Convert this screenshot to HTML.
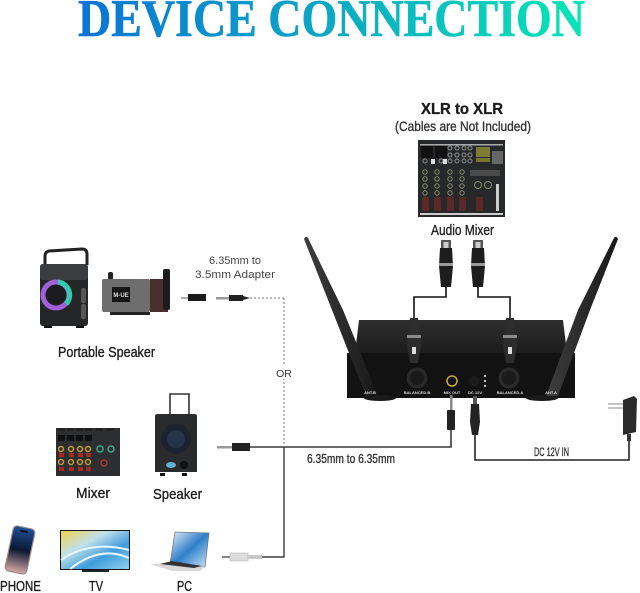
<!DOCTYPE html>
<html><head><meta charset="utf-8"><style>
html,body{margin:0;padding:0;background:#fff}
svg{display:block}
.n{font-family:"Liberation Sans",sans-serif;fill:#1c1c1c;stroke:#1c1c1c;stroke-width:.35}
</style></head><body>
<svg width="640" height="593" viewBox="0 0 640 593" xmlns="http://www.w3.org/2000/svg">
<defs>
<linearGradient id="t" gradientUnits="userSpaceOnUse" x1="78" y1="0" x2="585" y2="0"><stop offset="0" stop-color="#0b74d6"/><stop offset=".5" stop-color="#0ba9c4"/><stop offset="1" stop-color="#06e6b6"/></linearGradient>
<linearGradient id="top" x1="0" y1="0" x2="0" y2="1"><stop offset="0" stop-color="#2e2e2e"/><stop offset="1" stop-color="#1c1c1c"/></linearGradient>
<linearGradient id="ant" x1="0" y1="0" x2="1" y2="0"><stop offset="0" stop-color="#3e3e3e"/><stop offset="1" stop-color="#181818"/></linearGradient>
<linearGradient id="sky" x1="0" y1="0" x2="1" y2="1"><stop offset="0" stop-color="#f4d34a"/><stop offset=".35" stop-color="#bfe0ea"/><stop offset=".65" stop-color="#3f9ddc"/><stop offset="1" stop-color="#8fd0ef"/></linearGradient>
<linearGradient id="ph" x1="0" y1="0" x2="0" y2="1"><stop offset="0" stop-color="#1f4f9a"/><stop offset=".5" stop-color="#0b1830"/><stop offset="1" stop-color="#d8a8a8"/></linearGradient>
<linearGradient id="lap" x1="0" y1="0" x2="1" y2="1"><stop offset="0" stop-color="#e6f0fa"/><stop offset=".5" stop-color="#2f7fc8"/><stop offset="1" stop-color="#cfe6f6"/></linearGradient>
<g id="xlr">
<rect x="-5" y="0" width="10" height="8" fill="#555"/>
<rect x="-2.5" y="2" width="5" height="8" fill="#ccc"/>
<path d="M-6 8H6L7 26 5 47H-5L-7 26Z" fill="#1d1d1d"/>
<rect x="-7" y="23" width="14" height="3" fill="#999"/>
</g>
</defs>

<rect width="640" height="593" fill="#fff"/>
<text x="78" y="36" font-family="'Liberation Serif',serif" font-weight="700" font-size="53" fill="url(#t)" stroke="url(#t)" stroke-width=".6" textLength="507" lengthAdjust="spacingAndGlyphs">DEVICE CONNECTION</text>

<!-- top labels -->
<text class="n" x="421" y="114" font-weight="700" font-size="15.5" textLength="82" lengthAdjust="spacingAndGlyphs">XLR to XLR</text>
<text class="n" x="395" y="131" font-size="14" textLength="136" lengthAdjust="spacingAndGlyphs" style="fill:#333;stroke:#333">(Cables are Not Included)</text>
<text class="n" x="431" y="235" font-size="15" textLength="63" lengthAdjust="spacingAndGlyphs" style="fill:#222;stroke:#222">Audio Mixer</text>

<!-- audio mixer -->
<rect x="418" y="140" width="87" height="77" fill="#26282a"/>
<rect x="420" y="144" width="83" height="1.5" fill="#aaa"/>
<rect x="420" y="213" width="83" height="2" fill="#ccc"/>
<rect x="421" y="146" width="12" height="12" fill="#111"/><rect x="435" y="146" width="12" height="12" fill="#111"/>
<rect x="476" y="147" width="14" height="10" fill="#7c7c34"/>
<rect x="492" y="151" width="11" height="13" fill="#666"/>
<g fill="none" stroke="#8e8e8e" stroke-width="1">
<circle cx="450" cy="148" r="2"/><circle cx="457" cy="148" r="2"/><circle cx="464" cy="148" r="2"/><circle cx="470" cy="148" r="2"/>
<circle cx="450" cy="155" r="2"/><circle cx="457" cy="155" r="2"/><circle cx="464" cy="155" r="2"/><circle cx="470" cy="155" r="2"/>
<circle cx="425" cy="161" r="2"/><circle cx="441" cy="161" r="2"/><circle cx="450" cy="161" r="2"/><circle cx="457" cy="161" r="2"/><circle cx="464" cy="161" r="2"/><circle cx="470" cy="161" r="2"/>
</g>
<rect x="431" y="159" width="4" height="5" fill="#ddd"/><rect x="443" y="159" width="4" height="5" fill="#ddd"/>
<rect x="476" y="158" width="14" height="4" fill="#77772f"/>
<g fill="none" stroke="#8b8b72" stroke-width="1">
<circle cx="425" cy="172" r="2.2"/><circle cx="425" cy="179" r="2.2"/><circle cx="425" cy="186" r="2.2"/><circle cx="425" cy="193" r="2.2"/>
<circle cx="437" cy="172" r="2.2"/><circle cx="437" cy="179" r="2.2"/><circle cx="437" cy="186" r="2.2"/><circle cx="437" cy="193" r="2.2"/>
<circle cx="450" cy="172" r="2.2"/><circle cx="450" cy="179" r="2.2"/><circle cx="450" cy="186" r="2.2"/><circle cx="450" cy="193" r="2.2"/>
<circle cx="462" cy="172" r="2.2"/><circle cx="462" cy="179" r="2.2"/><circle cx="462" cy="186" r="2.2"/><circle cx="462" cy="193" r="2.2"/>
<circle cx="478" cy="185" r="3.5"/><circle cx="488" cy="185" r="3.5"/>
</g>
<g fill="#5a2828"><rect x="422" y="197" width="7" height="14"/><rect x="434" y="197" width="7" height="14"/><rect x="447" y="197" width="7" height="14"/><rect x="459" y="197" width="7" height="14"/><rect x="476" y="197" width="7" height="14"/></g>
<rect x="470" y="170" width="30" height="6" fill="#4a4a4a"/>
<rect x="496" y="184" width="3" height="27" fill="#ccc"/>

<!-- device body -->
<path d="M359 320H563L567 353H355Z" fill="url(#top)"/>
<rect x="347" y="353" width="228" height="45" fill="#121212"/>
<ellipse cx="380" cy="398" rx="16" ry="3" fill="#1a1a1a"/><ellipse cx="542" cy="398" rx="16" ry="3" fill="#1a1a1a"/>
<!-- antennas -->
<path d="M304 239Q306 235 308 238L343 310 378 396H366L332 310Z" fill="url(#ant)"/>
<path d="M618 239Q616 235 614 238L578 310 546 396H558L590 310Z" fill="url(#ant)"/>

<!-- XLR connectors -->
<circle cx="417" cy="378" r="10.5" fill="#2a2a2a"/><circle cx="417" cy="378" r="7" fill="#1a1a1a"/>
<circle cx="509" cy="378" r="10.5" fill="#2a2a2a"/><circle cx="509" cy="378" r="7" fill="#1a1a1a"/>
<use href="#xlr" x="446" y="240"/>
<use href="#xlr" x="478" y="240"/>
<path d="M446 287V297H414V322M478 287V297H510V322" fill="none" stroke="#111" stroke-width="1.6"/>
<g><path d="M410 318H418L421 345 418 363H410L407 345Z" fill="#2d2d2d"/><rect x="407" y="335" width="14" height="3" fill="#8a8a8a"/><rect x="412" y="347" width="4" height="7" fill="#ddd"/></g>
<g><path d="M506 318H514L517 345 514 363H506L503 345Z" fill="#2d2d2d"/><rect x="503" y="335" width="14" height="3" fill="#8a8a8a"/><rect x="508" y="347" width="4" height="7" fill="#ddd"/></g>

<!-- front jacks -->
<circle cx="452" cy="381" r="5" fill="#111" stroke="#c9a92e" stroke-width="1.5"/>
<circle cx="474" cy="381" r="5" fill="#1c1c1c"/>
<g fill="#bbb"><circle cx="485" cy="376" r="1.2"/><circle cx="485" cy="381" r="1.2"/><circle cx="485" cy="386" r="1.2"/></g>
<g font-family="'Liberation Sans',sans-serif" font-size="4" font-weight="700" fill="#ddd" text-anchor="middle">
<text x="370" y="394">ANT.B</text><text x="417" y="394">BALANCED.B</text><text x="452" y="394">MIX OUT</text><text x="475" y="394">DC 12V</text><text x="510" y="394">BALANCED.A</text><text x="551" y="394">ANT.A</text>
</g>

<!-- mix out plug -->
<rect x="450" y="395" width="2.5" height="15" fill="#888"/>
<rect x="447" y="410" width="8" height="20" rx="1" fill="#222"/>
<path d="M451 430V447H217" fill="none" stroke="#3a3a3a" stroke-width="1.6"/>
<text class="n" x="307" y="463" font-size="12.5" textLength="88" lengthAdjust="spacingAndGlyphs" style="fill:#333;stroke:#333">6.35mm to 6.35mm</text>

<!-- DC plug -->
<rect x="473" y="396" width="4" height="8" fill="#555"/>
<path d="M471 404H479L480 422 478 435H472L470 422Z" fill="#222"/>
<path d="M475 435V460H629V435" fill="none" stroke="#222" stroke-width="1.6"/>
<text class="n" x="534" y="456" font-size="12" textLength="35" lengthAdjust="spacingAndGlyphs" style="fill:#333;stroke:#333">DC 12V IN</text>
<path d="M623 400L634 396 637 399 636 432 623 435Z" fill="#2a2a2a"/>
<rect x="608" y="403" width="15" height="2" fill="#c4c4c4"/><rect x="608" y="407" width="15" height="2" fill="#c4c4c4"/>
<rect x="627" y="434" width="4" height="7" fill="#333"/>

<!-- 6.35 plug left -->
<rect x="217" y="446" width="15" height="2.5" fill="#999"/>
<rect x="232" y="443" width="18" height="8" fill="#222"/>
<!-- branch -->
<path d="M284 447V557H262" fill="none" stroke="#3a3a3a" stroke-width="1.4"/>
<path d="M284 298V447M250 298H284" fill="none" stroke="#777" stroke-width="1" stroke-dasharray="2 2"/>
<rect x="272" y="364" width="24" height="15" fill="#fff"/>
<text x="284" y="377" text-anchor="middle" font-family="'Liberation Sans',sans-serif" font-size="10.5" fill="#333">OR</text>
<!-- white plug -->
<rect x="222" y="556" width="8" height="2" fill="#888"/>
<rect x="230" y="553" width="18" height="8" fill="#ddd" stroke="#aaa" stroke-width=".5"/>
<rect x="248" y="555" width="14" height="4" fill="#c8c8c8"/>

<!-- adapter -->
<path d="M181 298H188" stroke="#555"/>
<rect x="188" y="294" width="18" height="7" fill="#1a1a1a"/>
<rect x="216" y="297" width="14" height="2.5" fill="#999"/>
<rect x="229" y="295" width="14" height="6" fill="#222"/><path d="M243 296L250 298 243 300Z" fill="#222"/>
<text x="235" y="264" text-anchor="middle" font-family="'Liberation Sans',sans-serif" font-size="11" fill="#444">6.35mm to</text>
<text x="235" y="278" text-anchor="middle" font-family="'Liberation Sans',sans-serif" font-size="11" fill="#444" textLength="80" lengthAdjust="spacingAndGlyphs">3.5mm Adapter</text>

<!-- portable speaker -->
<path d="M45 265V256Q45 252 49 251L82 249Q87 249 87 254V265" fill="none" stroke="#222" stroke-width="3"/>
<rect x="40" y="264" width="48" height="62" rx="3" fill="#242628"/>
<rect x="40" y="264" width="48" height="16" rx="3" fill="#3a3c40"/>
<circle cx="56" cy="295" r="13" fill="#1b1b20" stroke="#a060d8" stroke-width="5"/>
<path d="M58 282A13 13 0 0 1 66 304" fill="none" stroke="#35c9b0" stroke-width="5"/>
<rect x="81" y="288" width="5" height="15" rx="2" fill="#555"/><rect x="81" y="304" width="5" height="15" rx="2" fill="#555"/>
<rect x="44" y="326" width="8" height="2" fill="#111"/><rect x="76" y="326" width="8" height="2" fill="#111"/>
<!-- karaoke box -->
<rect x="108" y="272" width="5" height="8" rx="2" fill="#222"/>
<rect x="102" y="279" width="48" height="33" rx="2" fill="#6e6e6e"/>
<rect x="150" y="279" width="18" height="33" fill="#4a2e2e"/>
<rect x="112" y="287" width="18" height="15" fill="#161616"/>
<text x="121" y="297" text-anchor="middle" font-family="'Liberation Sans',sans-serif" font-size="6" font-weight="700" fill="#ddd">M-UE</text>
<rect x="163" y="269" width="7" height="41" rx="2" fill="#1d1d1d"/>
<rect x="110" y="312" width="40" height="3" fill="#222"/>
<text class="n" x="58" y="357" font-size="15" textLength="97" lengthAdjust="spacingAndGlyphs">Portable Speaker</text>

<!-- small mixer -->
<rect x="56" y="428" width="64" height="48" fill="#2d2e30"/>
<g fill="#222"><rect x="58" y="428" width="7" height="3"/><rect x="67" y="428" width="7" height="3"/><rect x="76" y="428" width="7" height="3"/><rect x="85" y="428" width="7" height="3"/><rect x="96" y="428" width="7" height="3"/><rect x="107" y="428" width="7" height="3"/></g>
<g fill="#111"><rect x="58" y="435" width="7" height="6"/><rect x="67" y="435" width="7" height="6"/><rect x="76" y="435" width="7" height="6"/><rect x="85" y="435" width="7" height="6"/></g>
<g fill="none" stroke="#c59a3a" stroke-width="1.5"><circle cx="61" cy="449" r="2.5"/><circle cx="71" cy="449" r="2.5"/><circle cx="80" cy="449" r="2.5"/><circle cx="88" cy="449" r="2.5"/><circle cx="61" cy="462" r="2.5"/><circle cx="71" cy="462" r="2.5"/><circle cx="80" cy="462" r="2.5"/><circle cx="88" cy="462" r="2.5"/></g>
<g fill="#a52a22"><rect x="59" y="453" width="5" height="4"/><rect x="69" y="453" width="5" height="4"/><rect x="78" y="453" width="5" height="4"/><rect x="86" y="453" width="5" height="4"/><rect x="59" y="467" width="5" height="4"/><rect x="69" y="467" width="5" height="4"/><rect x="78" y="467" width="5" height="4"/><rect x="86" y="467" width="5" height="4"/></g>
<g fill="none" stroke="#3fa98a" stroke-width="1.5"><circle cx="100" cy="449" r="3"/><circle cx="111" cy="449" r="3"/></g>
<circle cx="104" cy="463" r="3" fill="none" stroke="#a33" stroke-width="1.5"/>
<text class="n" x="76" y="498" font-size="15" textLength="34" lengthAdjust="spacingAndGlyphs">Mixer</text>

<!-- trolley speaker -->
<path d="M170 416V394H189V416" fill="none" stroke="#333" stroke-width="1.6"/>
<path d="M155 416Q155 414 158 414H194Q197 414 197 416V472H155Z" fill="#2a2b2d"/>
<circle cx="176" cy="439" r="15" fill="#1c2430"/><circle cx="176" cy="439" r="9" fill="#26344a"/>
<ellipse cx="171" cy="465" rx="5" ry="3" fill="#5fb2d6"/><circle cx="184" cy="465" r="4" fill="#111"/>
<rect x="160" y="473" width="5" height="3" fill="#111"/><rect x="182" y="473" width="5" height="3" fill="#111"/>
<text class="n" x="153" y="499" font-size="15" textLength="49" lengthAdjust="spacingAndGlyphs">Speaker</text>

<!-- phone -->
<g transform="rotate(12 20 550)"><rect x="9" y="527" width="22" height="46" rx="4" fill="url(#ph)" stroke="#9a8a8a" stroke-width="1.2"/><rect x="16" y="530" width="8" height="2" rx="1" fill="#111"/></g>
<text class="n" x="0" y="591" font-size="15" textLength="41" lengthAdjust="spacingAndGlyphs">PHONE</text>

<!-- tv -->
<rect x="60" y="530" width="70" height="40" fill="#111"/>
<rect x="61" y="531" width="68" height="38" fill="url(#sky)"/>
<path d="M61 560Q90 540 129 550M70 569Q100 545 129 558" fill="none" stroke="#e8f4fb" stroke-width="2"/>
<rect x="82" y="570" width="27" height="2" fill="#222"/>
<text class="n" x="89" y="591" font-size="15" textLength="14" lengthAdjust="spacingAndGlyphs">TV</text>

<!-- laptop -->
<path d="M175 532L209 533 205 567 170 564Z" fill="url(#lap)" stroke="#777" stroke-width=".8"/>
<path d="M150 564L170 563 205 567 200 571H172Z" fill="#d8d8d8"/>
<path d="M160 564L172 561 202 566 194 568Z" fill="#333"/>
<text class="n" x="177" y="591" font-size="15" textLength="15" lengthAdjust="spacingAndGlyphs">PC</text>
</svg>
</body></html>
